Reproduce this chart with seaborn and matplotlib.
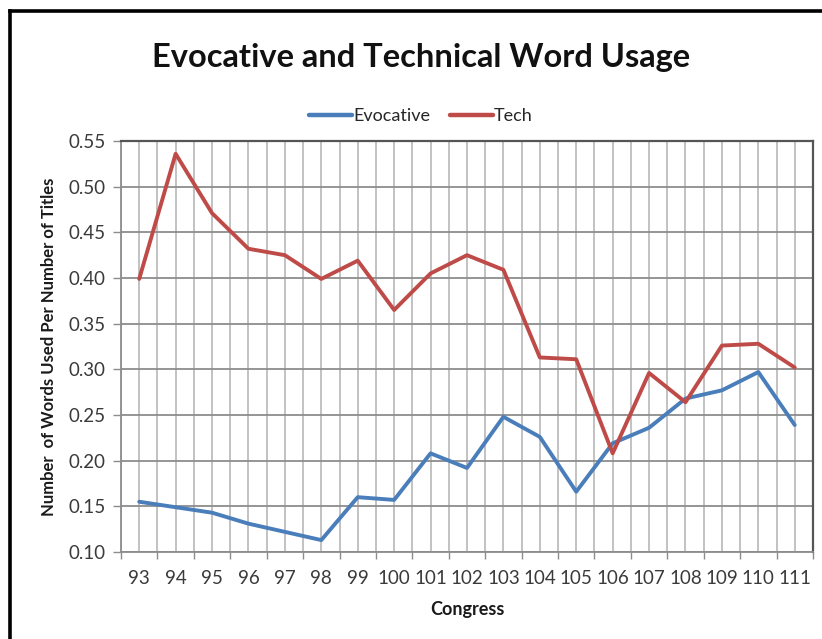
import matplotlib
matplotlib.use("Agg")
import matplotlib.pyplot as plt
from matplotlib.lines import Line2D
import seaborn as sns
import pandas as pd

congress = ["93", "94", "95", "96", "97", "98", "99", "100", "101", "102",
            "103", "104", "105", "106", "107", "108", "109", "110", "111"]
evocative = [0.155, 0.149, 0.143, 0.131, 0.122, 0.113, 0.160, 0.157, 0.208, 0.192,
             0.248, 0.226, 0.166, 0.219, 0.236, 0.268, 0.277, 0.297, 0.239]
tech = [0.399, 0.536, 0.471, 0.432, 0.425, 0.399, 0.419, 0.365, 0.405, 0.425,
        0.409, 0.313, 0.311, 0.208, 0.296, 0.264, 0.326, 0.328, 0.302]
y_ticks = [0.10, 0.15, 0.20, 0.25, 0.30, 0.35, 0.40, 0.45, 0.50, 0.55]

sns.set_theme(style="white")
plt.rcParams["font.family"] = ["Lato", "DejaVu Sans"]

n = len(congress)
df = pd.DataFrame({
    "pos": list(range(n)) * 2,
    "value": evocative + tech,
    "series": ["Evocative"] * n + ["Tech"] * n,
})

fig = plt.figure(figsize=(8.22, 6.39), dpi=100)
ax = fig.add_axes([0.1472, 0.1362, 0.989 - 0.1472, 0.7793 - 0.1362])

palette = {"Evocative": "#4a7ebb", "Tech": "#be4b48"}
sns.lineplot(data=df, x="pos", y="value", hue="series", palette=palette,
             linewidth=2.8, ax=ax, legend=False, zorder=3)

ax.set_xlim(-0.5, n - 0.5)
ax.set_ylim(0.10, 0.55)

# category labels at centres, tick marks on category boundaries
ax.set_xticks(range(n))
ax.set_xticklabels(congress)
ax.set_xticks([i - 0.5 for i in range(n + 1)], minor=True)
ax.tick_params(axis="x", which="major", length=0, pad=13, labelsize=13.5, labelcolor="#3a3a3a")
ax.tick_params(axis="x", which="minor", length=5, width=1, color="#8c8c8c", direction="out", bottom=True)

ax.set_yticks(y_ticks)
ax.set_yticklabels([f"{v:.2f}" for v in y_ticks])
ax.tick_params(axis="y", which="major", length=6, width=1, color="#8c8c8c", direction="out",
               left=True, pad=5, labelsize=13.5, labelcolor="#3a3a3a")

ax.grid(False)
ax.grid(True, axis="y", which="major", color="#8c8c8c", linewidth=1.3, zorder=1)
ax.grid(True, axis="x", which="both", color="#bdbdbd", linewidth=1.3, zorder=1)
ax.set_axisbelow(True)

for side in ["left", "bottom"]:
    ax.spines[side].set_color("#8c8c8c")
    ax.spines[side].set_linewidth(1.3)
for side in ["top", "right"]:
    ax.spines[side].set_color("#555555")
    ax.spines[side].set_linewidth(1.6)

ax.set_xlabel("Congress", fontsize=13, fontweight="bold", labelpad=10, color="#1a1a1a")
ax.set_ylabel("Number  of Words Used Per Number of Titles", fontsize=12,
              fontweight="bold", labelpad=8, color="#1a1a1a")

fig.text(0.512, 0.91, "Evocative and Technical Word Usage", ha="center", va="center",
         fontsize=23.5, fontweight="bold", color="#111111")

handles = [Line2D([0], [0], color=palette[s], linewidth=3.2) for s in ["Evocative", "Tech"]]
fig.legend(handles, ["Evocative", "Tech"], loc="center", bbox_to_anchor=(0.512, 0.818),
           ncol=2, frameon=False, fontsize=13, handlelength=2.4, handletextpad=0.05,
           columnspacing=1.1)

# outer chart frame
fig.add_artist(Line2D([9.5 / 822, 9.5 / 822], [0, 1 - 10.5 / 639], color="black",
                      linewidth=2.6, transform=fig.transFigure, solid_capstyle="projecting"))
fig.add_artist(Line2D([9.5 / 822, 1], [1 - 10.5 / 639, 1 - 10.5 / 639], color="black",
                      linewidth=2.6, transform=fig.transFigure, solid_capstyle="projecting"))

fig.savefig("out.png", dpi=100, facecolor="white")
